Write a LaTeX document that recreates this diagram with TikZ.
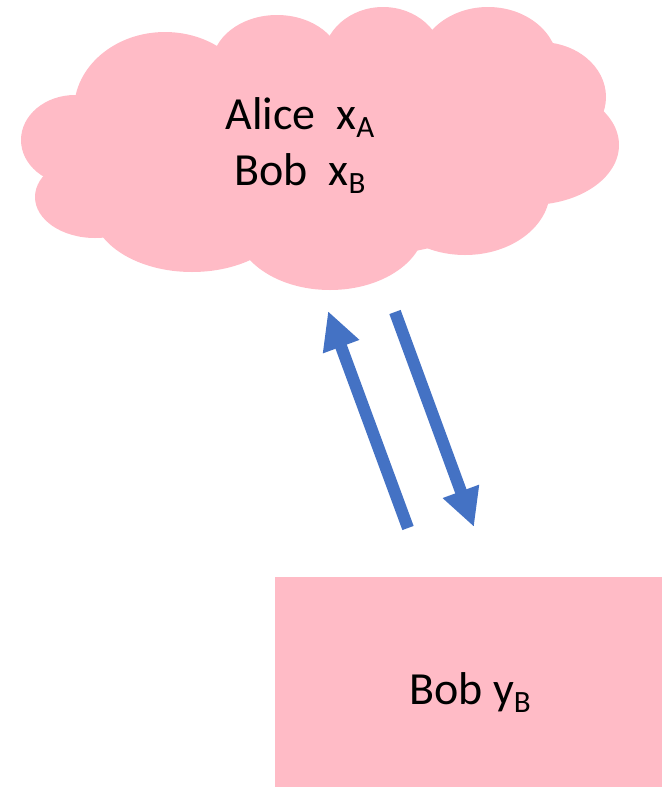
\documentclass[tikz,border=0pt]{standalone}
\usepackage{fontspec}
\setmainfont{Carlito}
\usetikzlibrary{arrows.meta}
\definecolor{cloudpink}{HTML}{FFBBC6}
\definecolor{arrowblue}{HTML}{4472C4}
\newcommand{\lowsub}[1]{\raisebox{-8pt}{\fontsize{31}{31}\selectfont #1}}
\tikzset{
  bigtext/.style={font=\fontsize{46}{56}\selectfont, text=black, inner sep=0pt, align=center},
  flow/.style={draw=arrowblue, line width=12pt,
    -{Triangle[length=38pt,width=36pt]}, shorten <=0pt},
  lobe/.style={fill=cloudpink, draw=none}
}
\begin{document}
\begin{tikzpicture}[x=1pt,y=-1pt]
\useasboundingbox (0,0) rectangle (662,796);

% cloud built from overlapping lobes
\fill[lobe] (320,150) ellipse [x radius=240, y radius=110];
\fill[lobe] (75,140) ellipse [x radius=54, y radius=45];
\fill[lobe] (95,197) ellipse [x radius=60, y radius=41];
\fill[lobe] (192,208) ellipse [x radius=100, y radius=64];
\fill[lobe] (330,225) ellipse [x radius=95, y radius=65];
\fill[lobe] (465,190) ellipse [x radius=85, y radius=65];
\fill[lobe] (530,145) ellipse [x radius=89, y radius=60];
\fill[lobe] (540,97) ellipse [x radius=66, y radius=55];
\fill[lobe] (488,65) ellipse [x radius=70, y radius=58];
\fill[lobe] (383,60) ellipse [x radius=60, y radius=53];
\fill[lobe] (277,65) ellipse [x radius=65, y radius=50];
\fill[lobe] (165,110) ellipse [x radius=91, y radius=78];

% the base anchor of a two-line node sits on its last line
\node[bigtext, anchor=base] (cloud) at (300,185)
  {Alice\ \ x\lowsub{A}\\Bob\ \ x\lowsub{B}};

% box on the right
\node[fill=cloudpink, minimum width=387pt, minimum height=210pt,
      inner sep=0pt, anchor=north west] (box) at (275,577) {};
\node[bigtext, anchor=base] (boxlabel) at (470,704) {Bob y\lowsub{B}};

% exchanged messages
\coordinate (upS) at (408,528);
\coordinate (upE) at (328,311);
\coordinate (dnS) at (395,312);
\coordinate (dnE) at (474,527);
\draw[flow] (upS) -- (upE);
\draw[flow] (dnS) -- (dnE);
\end{tikzpicture}
\end{document}
